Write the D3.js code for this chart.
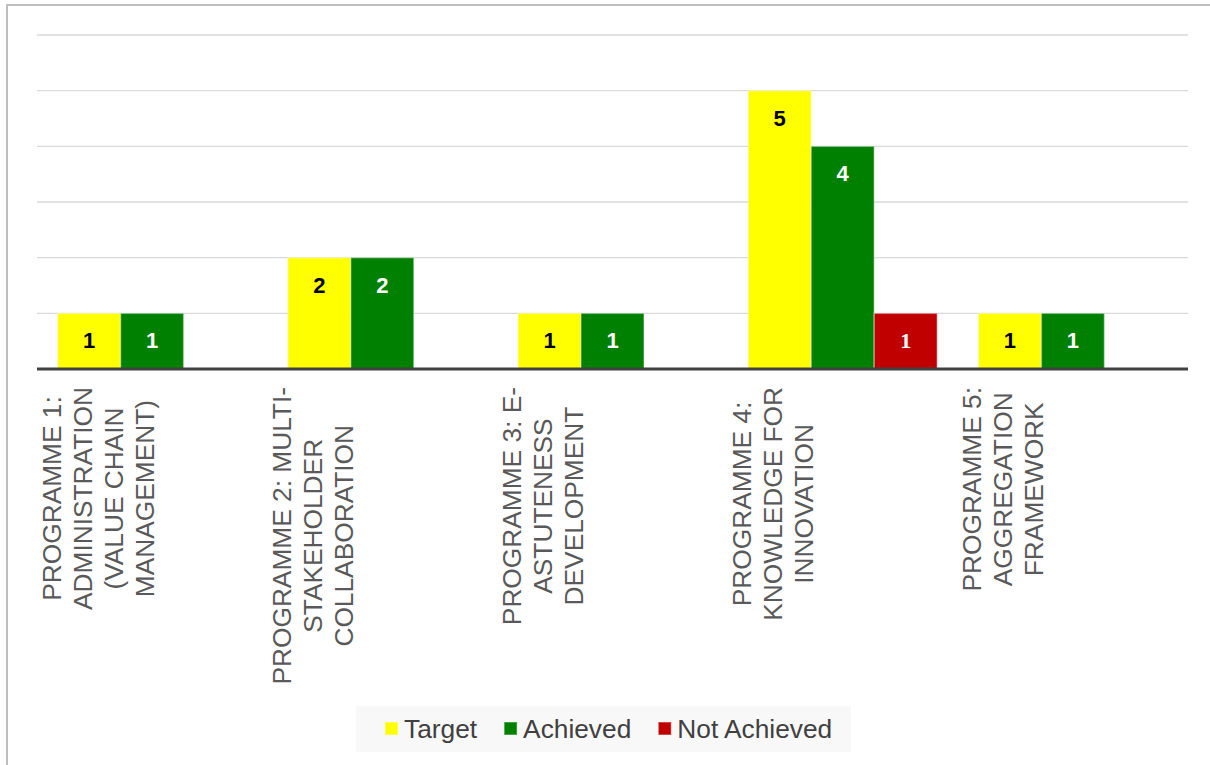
<!DOCTYPE html>
<html>
<head>
<meta charset="utf-8">
<script src="https://cdn.jsdelivr.net/npm/d3@7"></script>
<style>
  html, body { margin: 0; padding: 0; background: #ffffff; }
  svg { display: block; }
</style>
</head>
<body>
<svg id="chart" width="1210" height="765"></svg>
<script>
// ---- data ----
const categories = [
  ["PROGRAMME 1:", "ADMINISTRATION", "(VALUE CHAIN", "MANAGEMENT)"],
  ["PROGRAMME 2: MULTI-", "STAKEHOLDER", "COLLABORATION"],
  ["PROGRAMME 3: E-", "ASTUTENESS", "DEVELOPMENT"],
  ["PROGRAMME 4:", "KNOWLEDGE FOR", "INNOVATION"],
  ["PROGRAMME 5:", "AGGREGATION", "FRAMEWORK"]
];
const seriesNames = ["Target", "Achieved", "Not Achieved"];
const targetValues = [1, 2, 1, 5, 1];
const achievedValues = [1, 2, 1, 4, 1];
const notAchievedValues = [0, 0, 0, 1, 0];
const yTicks = [0, 1, 2, 3, 4, 5, 6];

const seriesValues = [targetValues, achievedValues, notAchievedValues];
const seriesColors = ["#ffff00", "#008000", "#c00000"];
const labelColors = ["#000000", "#ffffff", "#ffffff"];
const labelFonts = ["'Liberation Sans', Arial, sans-serif", "'Liberation Sans', Arial, sans-serif", "'Liberation Serif', 'Times New Roman', serif"];

const svg = d3.select("#chart");
const FONT = "'Liberation Sans', Arial, Helvetica, sans-serif";
const TEXT_SIZE = 26.3;

// outer border (only top and left visible in frame)
svg.append("rect")
  .attr("x", 7).attr("y", 5).attr("width", 1230).attr("height", 800)
  .attr("fill", "#ffffff").attr("stroke", "#bfbfbf").attr("stroke-width", 2);

const catIdx = categories.map((c, i) => i);
const x0 = d3.scaleBand().domain(catIdx).range([37, 1188]).paddingInner(0).paddingOuter(0);
const x1 = d3.scaleBand().domain(d3.range(seriesNames.length)).range([0, x0.bandwidth()]).paddingInner(0).paddingOuter(0.327);
const y = d3.scaleLinear().domain([0, 6]).range([369, 35]);

// gridlines
svg.append("g").selectAll("line").data(yTicks.filter(t => t > 0)).join("line")
  .attr("x1", 37).attr("x2", 1188)
  .attr("y1", d => y(d)).attr("y2", d => y(d))
  .attr("stroke", "#d9d9d9").attr("stroke-width", 1.3);

// bars
const barData = [];
categories.forEach((c, ci) => {
  seriesValues.forEach((vals, si) => {
    if (vals[ci] > 0) barData.push({ ci, si, v: vals[ci] });
  });
});

const bars = svg.append("g");
bars.selectAll("rect").data(barData).join("rect")
  .attr("x", d => x0(d.ci) + x1(d.si))
  .attr("y", d => y(d.v))
  .attr("width", x1.bandwidth())
  .attr("height", d => y(0) - y(d.v))
  .attr("fill", d => seriesColors[d.si])
  .attr("stroke", "#ffffff").attr("stroke-opacity", 0.35).attr("stroke-width", 1.5);

// data labels
bars.selectAll("text").data(barData).join("text")
  .attr("x", d => x0(d.ci) + x1(d.si) + x1.bandwidth() / 2)
  .attr("y", d => y(d.v) + 27)
  .attr("dy", "0.36em")
  .attr("text-anchor", "middle")
  .attr("font-family", d => labelFonts[d.si])
  .attr("font-weight", "bold")
  .attr("font-size", 22)
  .attr("fill", d => labelColors[d.si])
  .text(d => d.v);

// baseline
svg.append("line")
  .attr("x1", 37).attr("x2", 1188).attr("y1", y(0)).attr("y2", y(0))
  .attr("stroke", "#404040").attr("stroke-width", 3);

// category labels (rotated)
const catG = svg.append("g");
categories.forEach((lines, ci) => {
  const g = catG.append("g");
  const texts = lines.map((ln, li) => g.append("text")
    .attr("font-family", FONT).attr("font-size", TEXT_SIZE).attr("fill", "#595959")
    .attr("text-anchor", "middle").text(ln));
  const W = d3.max(texts, t => t.node().getComputedTextLength());
  const cy = 387 + W / 2;
  texts.forEach((t, li) => {
    const bx = x0(ci) + 23.5 + li * 31;
    t.attr("transform", `translate(${bx},${cy}) rotate(-90)`);
  });
});

// legend
const legG = svg.append("g");
legG.append("rect").attr("x", 356).attr("y", 706).attr("width", 495).attr("height", 46).attr("fill", "#f8f8f8");
let lx = 385;
seriesNames.forEach((name, si) => {
  legG.append("rect").attr("x", lx).attr("y", 722).attr("width", 13).attr("height", 13)
    .attr("fill", seriesColors[si]).attr("stroke", "#ffffff").attr("stroke-opacity", 0.35).attr("stroke-width", 1.5);
  const t = legG.append("text").attr("x", lx + 19).attr("y", 738)
    .attr("font-family", FONT).attr("font-size", TEXT_SIZE).attr("fill", "#404040").text(name);
  lx = lx + 19 + t.node().getComputedTextLength() + 27;
});
</script>
</body>
</html>
